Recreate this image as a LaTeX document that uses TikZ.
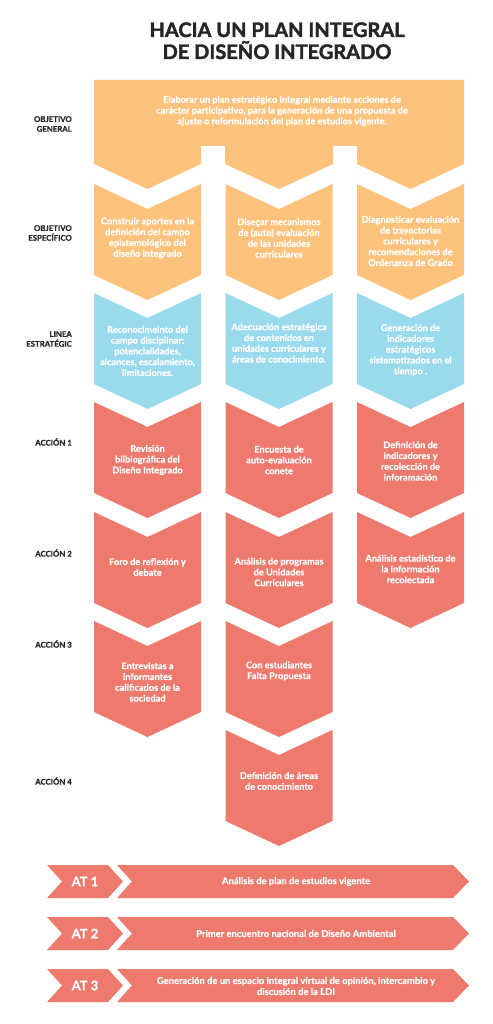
\documentclass[tikz,border=0pt]{standalone}
\usepackage{fontspec}
\setmainfont{Lato}
\definecolor{orng}{HTML}{FDC37D}
\definecolor{sky}{HTML}{9ADAED}
\definecolor{salmon}{HTML}{EE7A6E}
\definecolor{ink}{HTML}{262626}
% chevron block: left x, top y, colour
\newcommand{\chevbox}[3]{%
  \fill[#3] (#1,#2) -- ({#1+53.5},{#2+25}) -- ({#1+107},#2) -- ({#1+107},{#2+91})
    -- ({#1+53.5},{#2+116}) -- (#1,{#2+91}) -- cycle;}
% bottom bar pair: top y
\newcommand{\atbar}[1]{%
  \fill[salmon] (47,#1) -- (108,#1) -- (123,{#1+16.5}) -- (108,{#1+33}) -- (47,{#1+33}) -- (62,{#1+16.5}) -- cycle;
  \fill[salmon] (117,#1) -- (453,#1) -- (469,{#1+16.5}) -- (453,{#1+33}) -- (117,{#1+33}) -- (132,{#1+16.5}) -- cycle;}
\begin{document}
\begin{tikzpicture}[x=1pt,y=-1pt,
  boxtext/.style={text=white,font=\fontsize{9.2}{10.8}\selectfont\bfseries\addfontfeature{FakeBold=0.6},align=center,inner sep=0pt},
  rowlabel/.style={text=ink,font=\fontsize{7.8}{9.8}\selectfont\bfseries\addfontfeature{FakeBold=0.8},align=right,anchor=east,inner sep=0pt},
  titletext/.style={text=ink,font=\fontsize{20}{22}\selectfont\bfseries\addfontfeature{FakeBold=2},anchor=base,inner sep=0pt},
  attext/.style={text=white,font=\fontsize{13}{14}\selectfont\bfseries\addfontfeature{FakeBold=1},inner sep=0pt},
  bartext/.style={text=white,font=\fontsize{9.4}{11}\selectfont\bfseries\addfontfeature{FakeBold=0.6},align=center,inner sep=0pt}]
\useasboundingbox[fill=white] (0,0) rectangle (492,1024);

% title
\node[titletext] (title1) at (277,37) {HACIA UN PLAN INTEGRAL};
\node[titletext] (title2) at (277,59) {DE DISEÑO INTEGRADO};

% general objective banner
\fill[orng] (94,80) -- (464,80) -- (464,164) -- (410.5,189) -- (357,164) -- (357,146) -- (333,146)
  -- (333,164) -- (279,189) -- (225,164) -- (225,146) -- (201,146) -- (201,164) -- (147.5,189)
  -- (94,164) -- cycle;
\node[boxtext] (gen) at (282,111) {Elaborar un plan estratégico integral mediante acciones de\\carácter participativo, para la generación de una propuesta de\\ajuste o reformulación del plan de estudios vigente.};

% blocks
\chevbox{94}{184}{orng}\chevbox{225.5}{184}{orng}\chevbox{357}{184}{orng}
\chevbox{94}{293}{sky}\chevbox{225.5}{293}{sky}\chevbox{357}{293}{sky}
\chevbox{94}{402}{salmon}\chevbox{225.5}{402}{salmon}\chevbox{357}{402}{salmon}
\chevbox{94}{512}{salmon}\chevbox{225.5}{512}{salmon}\chevbox{357}{512}{salmon}
\chevbox{94}{621}{salmon}\chevbox{225.5}{621}{salmon}
\chevbox{225.5}{730}{salmon}

% row labels
\node[rowlabel] (lgen) at (72,124) {OBJETIVO\\GENERAL};
\node[rowlabel] (lesp) at (72,233) {OBJETIVO\\ESPECÍFICO};
\node[rowlabel] (llin) at (72,339) {LINEA\\ESTRATÉGIC};
\node[rowlabel] (la1) at (72,442) {ACCIÓN 1};
\node[rowlabel] (la2) at (72,553) {ACCIÓN 2};
\node[rowlabel] (la3) at (72,644) {ACCIÓN 3};
\node[rowlabel] (la4) at (72,781) {ACCIÓN 4};

% specific objectives
\node[boxtext] (e1) at (147.5,238) {Construir aportes en la\\definición del campo\\epistemológico del\\diseño integrado};
\node[boxtext] (e2) at (279,238) {Diseçar mecanismos\\de (auto) evaluación\\de las unidades\\curriculares};
\node[boxtext] (e3) at (410.5,241) {Diagnosticar evaluación\\de trayectorias\\curriculares y\\recomendaciones de\\Ordenanza de Grado};

% strategic lines
\node[boxtext] (s1) at (147.5,351) {Reconocimeinto del\\campo disciplinar:\\potencialidades,\\alcances, escalamiento,\\limitaciones.};
\node[boxtext] (s2) at (279,343) {Adecuación estratégica\\de contenidos en\\unidades curriculares y\\áreas de conocimiento.};
\node[boxtext] (s3) at (410.5,350) {Generación de\\indicadores\\estratégicos\\sistematizados en el\\tiempo .};

% action 1
\node[boxtext] (a11) at (147.5,460) {Revisión\\bilbiográfica del\\Diseño Integrado};
\node[boxtext] (a12) at (279,460) {Encuesta de\\auto-evaluación\\conete};
\node[boxtext] (a13) at (410.5,461) {Definición de\\indicadores y\\recolección de\\inforamación};

% action 2
\node[boxtext] (a21) at (147.5,567) {Foro de reflexión y\\debate};
\node[boxtext] (a22) at (279,572) {Análisis de programas\\de Unidades\\Curriculares};
\node[boxtext] (a23) at (410.5,569) {Análisis estadístico de\\la información\\recolectada};

% action 3
\node[boxtext] (a31) at (147.5,682) {Entrevistas a\\informantes\\calificados de la\\sociedad};
\node[boxtext] (a32) at (279,671) {Con estudiantes\\Falta Propuesta};

% action 4
\node[boxtext] (a42) at (279,781) {Definición de áreas\\de conocimiento};

% AT bars
\atbar{865}\atbar{917}\atbar{969}
\node[attext] (at1) at (85,881.5) {AT 1};
\node[attext] (at2) at (85,933.5) {AT 2};
\node[attext] (at3) at (85,985.5) {AT 3};
\node[bartext] (b1) at (296,881.5) {Análisis de plan de estudios vigente};
\node[bartext] (b2) at (296,933.5) {Primer encuentro nacional de Diseño Ambiental};
\node[bartext] (b3) at (296,986) {Generación de un espacio integral virtual de opinión, intercambio y\\discusión de la LDI};
\end{tikzpicture}
\end{document}
